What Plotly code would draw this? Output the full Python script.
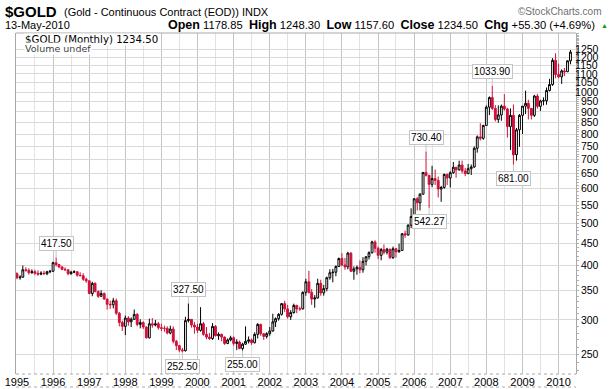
import math
import pandas as pd
import plotly.graph_objects as go

# ---------------- data (monthly OHLC, $GOLD continuous contract) ----------------
open_prices = [
    383, 375, 376, 391, 390, 385, 387, 384, 382, 384, 383, 387,
    388, 406, 402, 397, 392, 391, 383, 386, 387, 380, 379, 372,
    369, 345, 364, 349, 340, 345, 335, 326, 325, 332, 311, 296,
    290, 303, 297, 301, 309, 293, 296, 289, 273, 294, 292, 294,
    288, 287, 287, 280, 286, 268, 262, 256, 255, 299, 301, 292,
    289, 284, 294, 278, 274, 272, 290, 276, 278, 274, 265, 270,
    273, 265, 267, 258, 264, 268, 270, 266, 278, 293, 279, 275,
    279, 283, 297, 302, 309, 327, 318, 305, 312, 324, 318, 318,
    347, 367, 347, 335, 337, 364, 346, 354, 375, 385, 386, 398,
    415, 401, 397, 427, 388, 393, 396, 391, 409, 419, 428, 453,
    438, 422, 435, 429, 436, 417, 437, 430, 433, 473, 470, 495,
    518, 569, 557, 583, 654, 644, 614, 633, 627, 599, 604, 647,
    635, 653, 672, 663, 680, 659, 650, 667, 673, 743, 789, 783,
    838, 923, 971, 917, 865, 886, 928, 914, 833, 884, 718, 819,
    884, 928, 942, 917, 884, 979, 927, 954, 955, 1008, 1040, 1182,
    1097, 1083, 1118, 1113, 1178.85,
]
high_prices = [
    386, 380, 400, 396, 394, 392, 391, 390, 388, 389, 389, 391,
    408, 417.5, 403, 399, 396, 392, 389, 390, 388, 386, 384, 375,
    369, 367, 366, 350, 351, 347, 336, 332, 337, 336, 313, 299,
    307, 306, 304, 317, 311, 301, 298, 290, 302, 303, 300, 297,
    294, 291, 290, 291, 290, 270, 263, 259, 305, 327.5, 301, 297,
    294, 321, 297, 289, 280, 295, 292, 281, 279, 275, 272, 276,
    275, 271, 269, 266, 290, 275, 272, 281, 295, 294, 280, 281,
    289, 310, 304, 311, 328, 332, 325, 316, 327, 325, 322, 349,
    373, 389, 353, 342, 373, 371, 361, 377, 392, 393, 400, 417,
    427, 416, 430, 429, 398, 400, 411, 418, 419, 431, 456, 457,
    442, 439, 447, 439, 437, 442, 439, 449, 475, 481, 497, 541,
    571, 574, 586, 655, 730.4, 646, 677, 664, 640, 609, 650, 650,
    658, 691, 673, 696, 696, 670, 684, 682, 750, 795, 848, 841,
    932, 977, 1033.9, 933, 932, 936, 989, 920, 917, 936, 827, 890,
    928, 1007, 960, 918, 985, 990, 960, 972, 1024, 1072, 1196, 1227,
    1162, 1127, 1135, 1183, 1248.3,
]
low_prices = [
    372, 371, 375, 387, 381, 383, 380, 379, 380, 381, 380, 384,
    387, 398, 394, 390, 389, 380, 381, 384, 377, 378, 369, 365,
    344, 340, 347, 337, 339, 334, 317, 318, 319, 308, 290, 283,
    277, 291, 289, 300, 290, 287, 286, 272, 272, 288, 290, 285,
    283, 282, 278, 278, 265, 256, 253, 252.5, 254, 296, 288, 279,
    280, 282, 276, 271, 270, 270, 275, 270, 268, 263, 264, 268,
    262, 256, 257, 255, 263, 265, 263, 265, 272, 276, 270, 272,
    276, 282, 289, 299, 307, 313, 302, 300, 310, 311, 315, 317,
    341, 345, 325, 320, 336, 341, 341, 349, 371, 366, 378, 397,
    399, 391, 392, 387, 371, 381, 384, 385, 400, 413, 426, 428,
    414, 411, 424, 424, 414, 414, 417, 428, 433, 463, 468, 487,
    517, 535, 535, 582, 640, 542.27, 605, 612, 573, 560, 600, 612,
    604, 649, 636, 660, 651, 641, 648, 645, 670, 726, 774, 777,
    837, 885, 909, 856, 850, 859, 906, 786, 736, 681, 696, 749,
    801, 890, 865, 865, 876, 916, 905, 932, 935, 1003, 1033, 1075,
    1075, 1044, 1088, 1111, 1157.6,
]
close_prices = [
    375, 376, 391, 390, 385, 387, 384, 382, 384, 383, 387, 388,
    406, 402, 397, 392, 391, 383, 386, 387, 380, 379, 372, 369,
    345, 364, 349, 340, 345, 335, 326, 325, 332, 311, 296, 290,
    303, 297, 301, 309, 293, 296, 289, 273, 294, 292, 294, 288,
    287, 287, 280, 286, 268, 262, 256, 255, 299, 301, 292, 289,
    284, 294, 278, 274, 272, 290, 276, 278, 274, 265, 270, 273,
    265, 267, 258, 264, 268, 270, 266, 278, 293, 279, 275, 279,
    283, 297, 302, 309, 327, 318, 305, 312, 324, 318, 318, 347,
    367, 347, 335, 337, 364, 346, 354, 375, 385, 386, 398, 415,
    401, 397, 427, 388, 393, 396, 391, 409, 419, 428, 453, 438,
    422, 435, 429, 436, 417, 437, 430, 433, 473, 470, 495, 518,
    569, 557, 583, 654, 644, 614, 633, 627, 599, 604, 647, 635,
    653, 672, 663, 680, 659, 650, 667, 673, 743, 789, 783, 838,
    923, 971, 917, 865, 886, 928, 914, 833, 884, 718, 819, 884,
    928, 942, 917, 884, 979, 927, 954, 955, 1008, 1040, 1182, 1097,
    1083, 1118, 1113, 1179, 1234.5,
]
months = pd.date_range("1995-01-01", periods=len(close_prices), freq="MS")

year_labels = [str(y) for y in range(1995, 2011)]
price_ticks = [250, 300, 350, 400, 450, 500, 550, 600, 650, 700, 750, 800,
               850, 900, 950, 1000, 1050, 1100, 1150, 1200, 1250]

label_dates = ["1996-02-01", "1999-08-01", "1999-10-01", "2001-04-01",
               "2006-05-01", "2006-06-01", "2008-03-01", "2008-10-01"]
label_values = [417.50, 252.50, 327.50, 255.00, 730.40, 542.27, 1033.90, 681.00]
label_side = ["high", "low", "high", "low", "high", "low", "high", "low"]

# ---------------- figure ----------------
FONT = "Liberation Sans, Arial, sans-serif"
VFONT = "DejaVu Sans, Verdana, sans-serif"
RED = "#d0103a"

# plot area in pixels (for header placement in paper coordinates)
PX_L, PX_R, PX_T, PX_B = 16, 576, 33, 374
PW, PH = PX_R - PX_L, PX_B - PX_T


def px(x):
    return (x - PX_L) / PW


def py(y):
    return (PX_B - y) / PH


fig = go.Figure()
fig.add_trace(go.Candlestick(
    x=months, open=open_prices, high=high_prices, low=low_prices, close=close_prices,
    increasing=dict(line=dict(color="#000000", width=1), fillcolor="#ffffff"),
    decreasing=dict(line=dict(color=RED, width=1), fillcolor=RED),
    whiskerwidth=0, showlegend=False, hoverinfo="skip",
))

annotations = []
for d, v, s in zip(label_dates, label_values, label_side):
    annotations.append(dict(
        x=d, y=math.log10(v), xref="x", yref="y", text=f"{v:.2f}",
        showarrow=True, arrowhead=0, arrowwidth=1, arrowcolor="#c4c4c4",
        ax=0, ay=(-14 if s == "high" else 14), standoff=0,
        bgcolor="#ffffff", bordercolor="#c4c4c4", borderwidth=1, borderpad=1,
        font=dict(family=FONT, size=10, color="#000000"),
    ))

LBL = "<span style='font-size:12.5px'><b>%s</b></span>"
hdr = dict(xref="paper", yref="paper", showarrow=False, yanchor="middle")
annotations += [
    dict(hdr, x=px(3), y=py(11), xanchor="left", text="<b>$GOLD</b>",
         font=dict(family=FONT, size=15, color="#000000")),
    dict(hdr, x=px(62), y=py(11.5), xanchor="left",
         text="(Gold - Continuous Contract (EOD)) INDX",
         font=dict(family=FONT, size=11, color="#000000")),
    dict(hdr, x=px(604), y=py(11), xanchor="right", text="©StockCharts.com",
         font=dict(family=FONT, size=10, color="#707070")),
    dict(hdr, x=px(3), y=py(25), xanchor="left", text="13-May-2010",
         font=dict(family=FONT, size=11, color="#000000")),
    dict(hdr, x=px(597), y=py(25), xanchor="right",
         text=(LBL % "Open" + " 1178.85  " + LBL % "High" + " 1248.30  "
               + LBL % "Low" + " 1157.60  " + LBL % "Close" + " 1234.50  "
               + LBL % "Chg" + " +55.30 (+4.69%)"),
         font=dict(family=FONT, size=11.2, color="#000000")),
    dict(hdr, x=px(599), y=py(25.5), xanchor="left", text="▲",
         font=dict(family=FONT, size=7, color="#109a10")),
    dict(hdr, x=px(24), y=py(39.5), xanchor="left", text="$GOLD (Monthly) 1234.50",
         font=dict(family=VFONT, size=10.2, color="#000000"),
         bgcolor="#ffffff", borderpad=0),
    dict(hdr, x=px(24), y=py(48.5), xanchor="left", text="Volume undef",
         font=dict(family=VFONT, size=9.5, color="#404040"),
         bgcolor="#ffffff", borderpad=0),
]

shapes = [
    dict(type="line", xref="paper", yref="paper", x0=0, x1=1, y0=1, y1=1,
         line=dict(color="#a8a8a8", width=1)),
    dict(type="line", xref="paper", yref="paper", x0=0, x1=1, y0=0, y1=0,
         line=dict(color="#a8a8a8", width=1, dash="dot")),
    dict(type="line", xref="paper", yref="paper", x0=0, x1=1, y0=py(387), y1=py(387),
         line=dict(color="#a8a8a8", width=1, dash="dot")),
]

fig.update_layout(
    width=613, height=389,
    margin=dict(l=PX_L, r=613 - PX_R, t=PX_T, b=389 - PX_B, autoexpand=False),
    paper_bgcolor="#ffffff", plot_bgcolor="#ffffff",
    showlegend=False, boxgap=0.05,
    annotations=annotations, shapes=shapes,
    font=dict(family=FONT, size=11, color="#000000"),
)
fig.update_xaxes(
    type="date", range=["1994-12-22", "2010-06-26"], rangeslider=dict(visible=False),
    tickvals=[f"{y}-01-01" for y in year_labels], ticktext=year_labels,
    showgrid=True, gridcolor="#c4c4c4", gridwidth=1,
    minor=dict(dtick="M6", tick0="1995-01-01", showgrid=True, gridcolor="#e2e2e2"),
    showline=False, zeroline=False, ticks="", automargin=False,
    tickfont=dict(family=FONT, size=11, color="#000000"),
)
fig.update_yaxes(
    type="log", range=[math.log10(225.5), math.log10(1365.7)], side="right",
    tickvals=price_ticks,
    ticktext=[("\u2007" + str(v)) if v < 1000 else str(v) for v in price_ticks],
    showgrid=True, gridcolor="#dadada", gridwidth=1,
    showline=True, linecolor="#a8a8a8", mirror=True, zeroline=False,
    ticks="", automargin=False, ticklabelstandoff=-4,
    tickfont=dict(family=FONT, size=10.5, color="#000000"),
    minor=dict(tickvals=list(range(230, 1370, 10)), ticks="outside", ticklen=2,
               tickcolor="#b0b0b0", showgrid=False),
)

fig.write_html(
    "out.html",
    config={"displayModeBar": False},
    post_script="document.body.style.margin='0';document.body.style.overflow='hidden';",
)
